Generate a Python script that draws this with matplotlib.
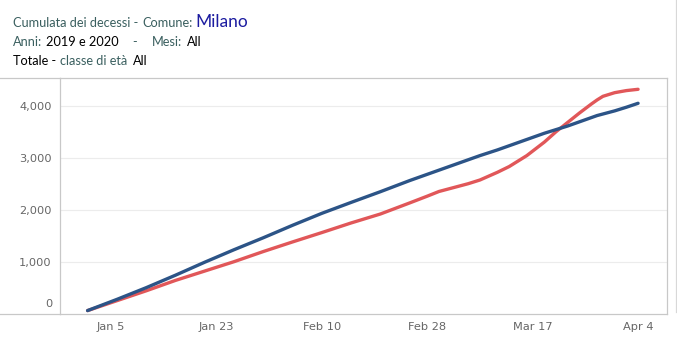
import matplotlib
matplotlib.use('Agg')
import matplotlib.pyplot as plt
import matplotlib.dates as mdates
import matplotlib.transforms as mtransforms
from matplotlib.lines import Line2D

plt.rcParams['font.family'] = ['Lato', 'DejaVu Sans']

# cumulative deaths, Milano
dates = ['2020-01-01', '2020-01-06', '2020-01-11', '2020-01-16', '2020-01-21',
         '2020-01-26', '2020-01-31', '2020-02-05', '2020-02-10', '2020-02-15',
         '2020-02-20', '2020-02-25', '2020-02-28', '2020-03-01', '2020-03-06',
         '2020-03-08', '2020-03-11', '2020-03-13', '2020-03-16', '2020-03-19',
         '2020-03-21', '2020-03-23', '2020-03-25', '2020-03-27', '2020-03-28',
         '2020-03-29', '2020-03-31', '2020-04-02', '2020-04-04']
deaths_2019 = [60, 275, 500, 740, 990, 1230, 1460, 1700, 1930, 2140,
               2346, 2560, 2680, 2760, 2960, 3040, 3150, 3230, 3350, 3470,
               3540, 3610, 3690, 3770, 3810, 3840, 3900, 3970, 4046]
deaths_2020 = [60, 250, 440, 640, 820, 1000, 1195, 1380, 1560, 1745,
               1917, 2130, 2260, 2350, 2500, 2571, 2720, 2830, 3040, 3300,
               3500, 3680, 3860, 4030, 4110, 4180, 4250, 4290, 4315]

xtick_dates = ['2020-01-05', '2020-01-23', '2020-02-10', '2020-02-28', '2020-03-17', '2020-04-04']
xtick_labels = ['Jan 5', 'Jan 23', 'Feb 10', 'Feb 28', 'Mar 17', 'Apr 4']
ytick_vals = [1000, 2000, 3000, 4000]
ytick_labels = ['1,000', '2,000', '3,000', '4,000']

W, H = 677, 352
fig = plt.figure(figsize=(W / 100, H / 100), dpi=100)
ax = fig.add_axes([60 / W, (H - 313.7) / H, (667 - 60) / W, (313.7 - 77.7) / H])

x = mdates.datestr2num(dates)
ax.plot(x, deaths_2020, color='#E15759', lw=2.4, solid_capstyle='round', zorder=3)
ax.plot(x, deaths_2019, color='#2C5487', lw=2.4, solid_capstyle='round', zorder=4)

x0 = mdates.datestr2num('2020-01-01')
ax.set_xlim(x0 - 4.71, x0 + 98.94)
ax.set_ylim(0, 4538)

tick_font = dict(family='DejaVu Sans', size=8.2)
ax.set_xticks(mdates.datestr2num(xtick_dates))
ax.set_xticklabels(xtick_labels, fontdict=tick_font)
ax.set_yticks(ytick_vals)
ax.set_yticklabels(ytick_labels, fontdict=tick_font)
ax.tick_params(axis='both', length=0, labelcolor='#666666')
ax.tick_params(axis='x', pad=6)
ax.tick_params(axis='y', pad=6)
# Tableau lifts the zero label above the axis line
zero_tr = ax.get_yaxis_transform() + mtransforms.ScaledTranslation(0, 9.7 / 100, fig.dpi_scale_trans)
ax.text(-8 / 607, 0, '0', transform=zero_tr, ha='right', va='center',
        color='#666666', **tick_font)

ax.grid(axis='y', color='#ececec', lw=0.8)
ax.set_axisbelow(True)
for s in ax.spines.values():
    s.set_color('#c8c8c8')
    s.set_linewidth(0.9)

# pane lines stretching to the left edge
for yy in (77.7, 313.7):
    fig.add_artist(Line2D([0, 60 / W], [(H - yy) / H] * 2, color='#c8c8c8', lw=0.9))
fig.add_artist(Line2D([676 / W] * 2, [(H - 312) / H, 1], color='#d8d8d8', lw=0.9))

# header
teal = '#3a5f5f'
def t(px, py, s, color, size=9.2):
    fig.text(px / W, (H - py) / H, s, color=color, fontsize=size, ha='left', va='baseline')

t(12.7, 27, 'Cumulata dei decessi -', teal)
t(142.7, 27, 'Comune:', teal)
t(195, 27, 'Milano', '#1c1ca0', 12.5)
t(12.7, 46.5, 'Anni:', teal)
t(46, 46.5, '2019 e 2020', 'black')
t(132.7, 46.5, '-', teal)
t(151.7, 46.5, 'Mesi:', teal)
t(187.3, 46.5, 'All', 'black')
t(12.7, 65, 'Totale -', 'black')
t(60, 65, 'classe di età', teal)
t(133, 65, 'All', 'black')

fig.savefig('out.png', dpi=100)
